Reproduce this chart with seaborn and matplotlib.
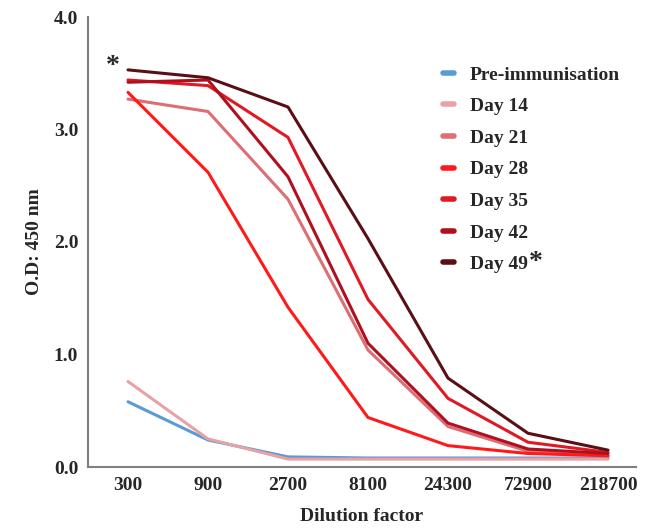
import numpy as np
import pandas as pd
import matplotlib
matplotlib.use("Agg")
import matplotlib.pyplot as plt
import seaborn as sns
from matplotlib.lines import Line2D

dilutions = ["300", "900", "2700", "8100", "24300", "72900", "218700"]
groups = ["Pre-immunisation", "Day 14", "Day 21", "Day 28", "Day 35", "Day 42", "Day 49"]
pre_imm = [0.58, 0.24, 0.09, 0.08, 0.08, 0.08, 0.08]
day14 = [0.76, 0.25, 0.07, 0.07, 0.07, 0.07, 0.07]
day21 = [3.27, 3.16, 2.38, 1.04, 0.36, 0.14, 0.10]
day28 = [3.33, 2.62, 1.42, 0.44, 0.19, 0.12, 0.10]
day35 = [3.44, 3.39, 2.93, 1.49, 0.61, 0.22, 0.13]
day42 = [3.42, 3.44, 2.58, 1.10, 0.39, 0.16, 0.12]
day49 = [3.53, 3.46, 3.20, 2.03, 0.79, 0.30, 0.15]
colors = ["#5b9bd5", "#e8a2a6", "#dc6e74", "#ff1a1a", "#e01a24", "#b0101e", "#5a0f14"]

series = [pre_imm, day14, day21, day28, day35, day42, day49]
rows = []
for g, vals in zip(groups, series):
    for i, v in enumerate(vals):
        rows.append({"pos": i, "dilution": dilutions[i], "group": g, "od": v})
df = pd.DataFrame(rows)

sns.set_style("white")
plt.rcParams["font.family"] = ["Liberation Serif", "DejaVu Serif"]
plt.rcParams["font.weight"] = "bold"

fig = plt.figure(figsize=(6.51, 5.29), dpi=100)
ax = fig.add_axes([88 / 651, 1 - 467 / 529, (636 - 88) / 651, (467 - 17) / 529])

palette = dict(zip(groups, colors))
sns.lineplot(data=df, x="pos", y="od", hue="group", hue_order=groups,
             palette=palette, linewidth=2.2, ax=ax, legend=False, sort=False)

ax.set_xlim(-0.5, 6.35)
ax.set_ylim(0, 4.0)
ax.set_xticks(range(len(dilutions)))
ax.set_xticklabels(dilutions, fontsize=14, fontweight="bold")
ax.set_yticks([0, 1, 2, 3, 4])
ax.set_yticklabels(["0.0", "1.0", "2.0", "3.0", "4.0"], fontsize=14, fontweight="bold")
ax.tick_params(axis="both", length=0, pad=7)
for s in ["top", "right"]:
    ax.spines[s].set_visible(False)
for s in ["left", "bottom"]:
    ax.spines[s].set_color("#808080")
    ax.spines[s].set_linewidth(1.5)

ax.set_xlabel("Dilution factor", fontsize=14, fontweight="bold", labelpad=10)
ax.set_ylabel("O.D: 450 nm", fontsize=14, fontweight="bold", labelpad=8)

handles = [Line2D([0], [0], color=c, lw=4) for c in colors]
leg = ax.legend(handles, groups, loc="upper left", bbox_to_anchor=(0.615, 0.93),
                frameon=False, handlelength=0.6, handletextpad=0.8,
                labelspacing=0.72, prop={"family": "Liberation Serif", "weight": "bold", "size": 14})

ax.text(-0.1, day49[0] + 0.03, "*", fontsize=20, fontweight="bold", ha="right", va="center")

fig.canvas.draw()
renderer = fig.canvas.get_renderer()
last = leg.get_texts()[-1]
bb = last.get_window_extent(renderer)
x_end, y_top = bb.x1, bb.y1
fig.text((x_end + 1) / fig.bbox.width, (y_top - 6) / fig.bbox.height, "*",
         fontsize=20, fontweight="bold", ha="left", va="center")

fig.savefig("out.png", dpi=100)
